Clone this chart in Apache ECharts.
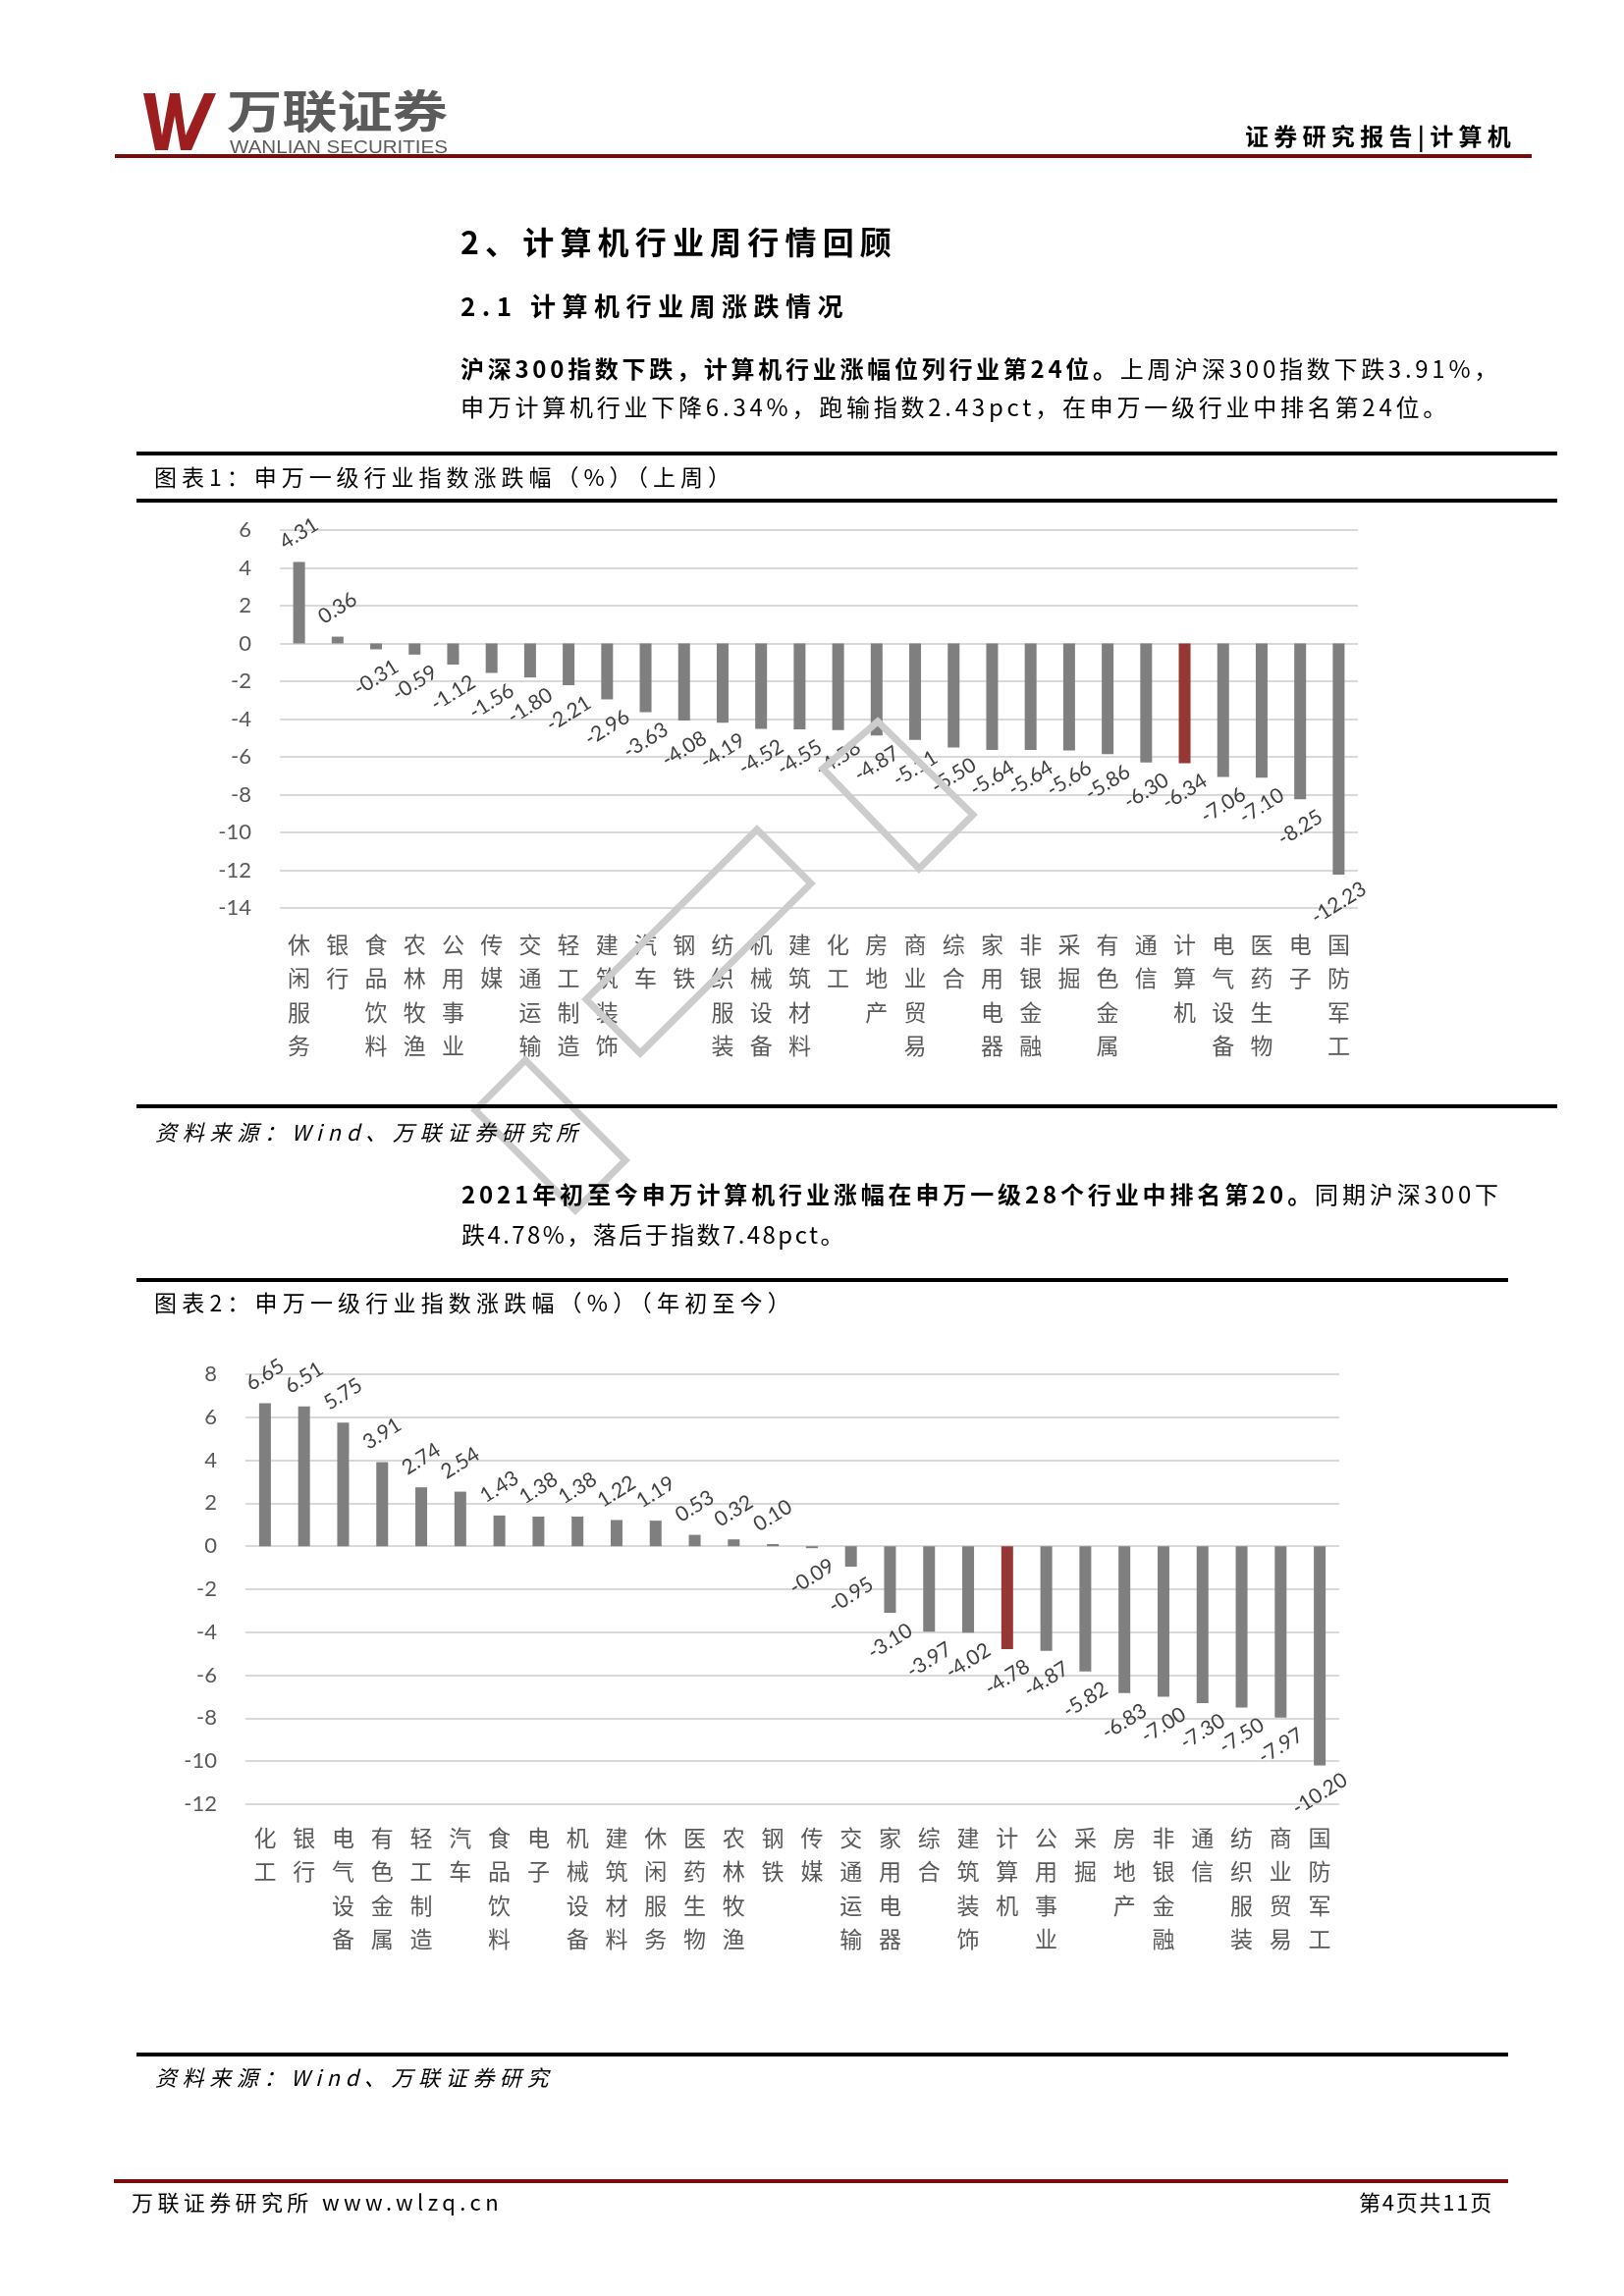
<!DOCTYPE html>
<html>
<head>
<meta charset="utf-8">
<script src="https://cdn.jsdelivr.net/npm/echarts@6/dist/echarts.min.js"></script>
<style>
  html,body{margin:0;padding:0;background:#fff;}
  body{width:1654px;height:2339px;position:relative;overflow:hidden;font-family:"Noto Sans CJK SC",sans-serif;color:#000;}
  #chart{position:absolute;left:0;top:0;width:1654px;height:2339px;}
  .t{position:absolute;white-space:nowrap;z-index:2;}
  .ln{position:absolute;z-index:2;}
</style>
</head>
<body>
<div id="chart"></div>

<!-- header -->
<svg class="ln" style="left:0;top:0" width="300" height="170">
  <path d="M146,95 L158,95 L165,138 L173,95 L183,95 L189,138 L208,95 L220,95 L195,153 L184,153 L178,118 L171,153 L158,153 Z" fill="#9c1e1e"/>
</svg>
<div class="t" data-fit="sx" data-w="225" style="left:231px;top:85px;font-size:46px;line-height:50px;font-weight:bold;color:#5b5b5b;">万联证券</div>
<div class="t" data-fit="sx" data-w="222" style="left:234px;top:140px;font-size:18px;line-height:21px;color:#5b5b5b;font-family:'Liberation Sans',sans-serif;">WANLIAN SECURITIES</div>
<div class="t" data-fit="ls" data-w="276" style="left:1268px;top:124px;font-size:24px;line-height:28px;font-weight:bold;">证券研究报告|计算机</div>
<div class="ln" style="left:117px;top:157px;width:1443px;height:4px;background:#7b0c0c;"></div>

<!-- section titles and text -->
<div class="t" data-fit="ls" data-w="445" style="left:469px;top:227px;font-size:32px;line-height:36px;font-weight:bold;">2、计算机行业周行情回顾</div>
<div class="t" data-fit="ls" data-w="396" style="left:469px;top:296px;font-size:26px;line-height:30px;font-weight:bold;">2.1 计算机行业周涨跌情况</div>
<div class="t" data-fit="ls" data-w="1060" style="left:469px;top:360px;font-size:24px;line-height:30px;"><b>沪深300指数下跌，计算机行业涨幅位列行业第24位。</b>上周沪深300指数下跌3.91%，</div>
<div class="t" data-fit="ls" data-w="1008" style="left:469px;top:399px;font-size:24px;line-height:30px;">申万计算机行业下降6.34%，跑输指数2.43pct，在申万一级行业中排名第24位。</div>

<div class="ln" style="left:139px;top:460px;width:1447px;height:4px;background:#000;"></div>
<div class="t" data-fit="ls" data-w="592" style="left:157px;top:471px;font-size:23px;line-height:28px;">图表1：申万一级行业指数涨跌幅（%）（上周）</div>
<div class="ln" style="left:139px;top:508px;width:1447px;height:4px;background:#000;"></div>
<div class="ln" style="left:139px;top:1125px;width:1447px;height:4px;background:#000;"></div>
<div class="t" data-fit="ls" data-w="436" style="left:158px;top:1138px;font-size:22px;line-height:28px;font-style:italic;">资料来源：Wind、万联证券研究所</div>

<div class="t" data-fit="ls" data-w="1060" style="left:470px;top:1201px;font-size:24px;line-height:30px;"><b>2021年初至今申万计算机行业涨幅在申万一级28个行业中排名第20。</b>同期沪深300下</div>
<div class="t" data-fit="ls" data-w="392" style="left:470px;top:1242px;font-size:24px;line-height:30px;">跌4.78%，落后于指数7.48pct。</div>

<div class="ln" style="left:139px;top:1302px;width:1397px;height:4px;background:#000;"></div>
<div class="t" data-fit="ls" data-w="653" style="left:157px;top:1312px;font-size:23px;line-height:28px;">图表2：申万一级行业指数涨跌幅（%）（年初至今）</div>
<div class="ln" style="left:139px;top:2091px;width:1397px;height:4px;background:#000;"></div>
<div class="t" data-fit="ls" data-w="406" style="left:158px;top:2101px;font-size:22px;line-height:28px;font-style:italic;">资料来源：Wind、万联证券研究</div>

<!-- footer -->
<div class="ln" style="left:116px;top:2220px;width:1420px;height:4px;background:#7b0c0c;"></div>
<div class="t" data-fit="ls" data-w="378" style="left:134px;top:2228px;font-size:22px;line-height:28px;">万联证券研究所 www.wlzq.cn</div>
<div class="t" data-fit="ls" data-w="137" style="left:1384px;top:2228px;font-size:22px;line-height:28px;">第4页共11页</div>

<script>
// ---------- data ----------
const categories1 = ['休闲服务','银行','食品饮料','农林牧渔','公用事业','传媒','交通运输','轻工制造','建筑装饰','汽车','钢铁','纺织服装','机械设备','建筑材料','化工','房地产','商业贸易','综合','家用电器','非银金融','采掘','有色金属','通信','计算机','电气设备','医药生物','电子','国防军工'];
const values1 = [4.31,0.36,-0.31,-0.59,-1.12,-1.56,-1.80,-2.21,-2.96,-3.63,-4.08,-4.19,-4.52,-4.55,-4.58,-4.87,-5.11,-5.50,-5.64,-5.64,-5.66,-5.86,-6.30,-6.34,-7.06,-7.10,-8.25,-12.23];

const categories2 = ['化工','银行','电气设备','有色金属','轻工制造','汽车','食品饮料','电子','机械设备','建筑材料','休闲服务','医药生物','农林牧渔','钢铁','传媒','交通运输','家用电器','综合','建筑装饰','计算机','公用事业','采掘','房地产','非银金融','通信','纺织服装','商业贸易','国防军工'];
const values2 = [6.65,6.51,5.75,3.91,2.74,2.54,1.43,1.38,1.38,1.22,1.19,0.53,0.32,0.10,-0.09,-0.95,-3.10,-3.97,-4.02,-4.78,-4.87,-5.82,-6.83,-7.00,-7.30,-7.50,-7.97,-10.20];

const yTicks1 = {min:-14, max:6, interval:2};
const yTicks2 = {min:-12, max:8, interval:2};
const highlightName = '计算机';

// ---------- fit text widths ----------
document.querySelectorAll('[data-fit]').forEach(el => {
  const target = parseFloat(el.dataset.w);
  const w = el.getBoundingClientRect().width;
  if (el.dataset.fit === 'sx') {
    el.style.transformOrigin = 'left center';
    el.style.transform = 'scaleX(' + (target / w) + ')';
  } else {
    const n = el.textContent.length;
    el.style.letterSpacing = ((target - w) / n) + 'px';
  }
});

// ---------- chart ----------
const GRAY = '#7f7f7f', RED = '#953735';
function buildData(cats, vals) {
  return vals.map((v, i) => ({
    value: v,
    itemStyle: {color: cats[i] === highlightName ? RED : GRAY},
    label: {position: v >= 0 ? 'top' : 'bottom'}
  }));
}
const labelStyle = {
  show: true, rotate: 32, distance: 29, align: 'center', verticalAlign: 'middle',
  fontSize: 21, fontFamily: 'Lato', color: '#404040',
  formatter: p => p.value.toFixed(2)
};
function xAxis(idx, cats, margin) {
  return {
    type: 'category', gridIndex: idx, data: cats,
    axisLine: {show: false, onZero: false}, axisTick: {show: false},
    axisLabel: {
      interval: 0, margin: margin, fontSize: 23, lineHeight: 34.5, color: '#595959',
      fontFamily: 'Noto Sans CJK SC',
      formatter: s => s.split('').join('\n')
    }
  };
}
function yAxis(idx, t) {
  return {
    type: 'value', gridIndex: idx, min: t.min, max: t.max, interval: t.interval,
    axisLine: {show: false}, axisTick: {show: false},
    axisLabel: {fontSize: 22, color: '#595959', fontFamily: 'Lato', margin: 29},
    splitLine: {lineStyle: {color: '#d9d9d9', width: 2}}
  };
}
const wm = {fill: 'none', stroke: '#cccccc', lineWidth: 7};
const chart = echarts.init(document.getElementById('chart'), null, {renderer: 'canvas'});
chart.setOption({
  animation: false,
  grid: [
    {left: 285, top: 540, width: 1098, height: 385, outerBoundsMode: 'none'},
    {left: 250, top: 1400, width: 1114, height: 438, outerBoundsMode: 'none'}
  ],
  xAxis: [xAxis(0, categories1, 20), xAxis(1, categories2, 17)],
  yAxis: [yAxis(0, yTicks1), yAxis(1, yTicks2)],
  series: [
    {type: 'bar', xAxisIndex: 0, yAxisIndex: 0, barWidth: 12, data: buildData(categories1, values1), label: labelStyle},
    {type: 'bar', xAxisIndex: 1, yAxisIndex: 1, barWidth: 12, data: buildData(categories2, values2), label: labelStyle}
  ],
  graphic: [
    {type: 'polygon', z: 100, shape: {points: [[894,735],[991,830],[936,885],[838,783]]}, style: wm},
    {type: 'polygon', z: 100, shape: {points: [[771,845],[826,900],[652,1073],[597,1018]]}, style: wm},
    {type: 'polygon', z: 100, shape: {points: [[535,1080],[637,1182],[586,1233],[484,1131]]}, style: wm}
  ]
});
</script>
</body>
</html>
